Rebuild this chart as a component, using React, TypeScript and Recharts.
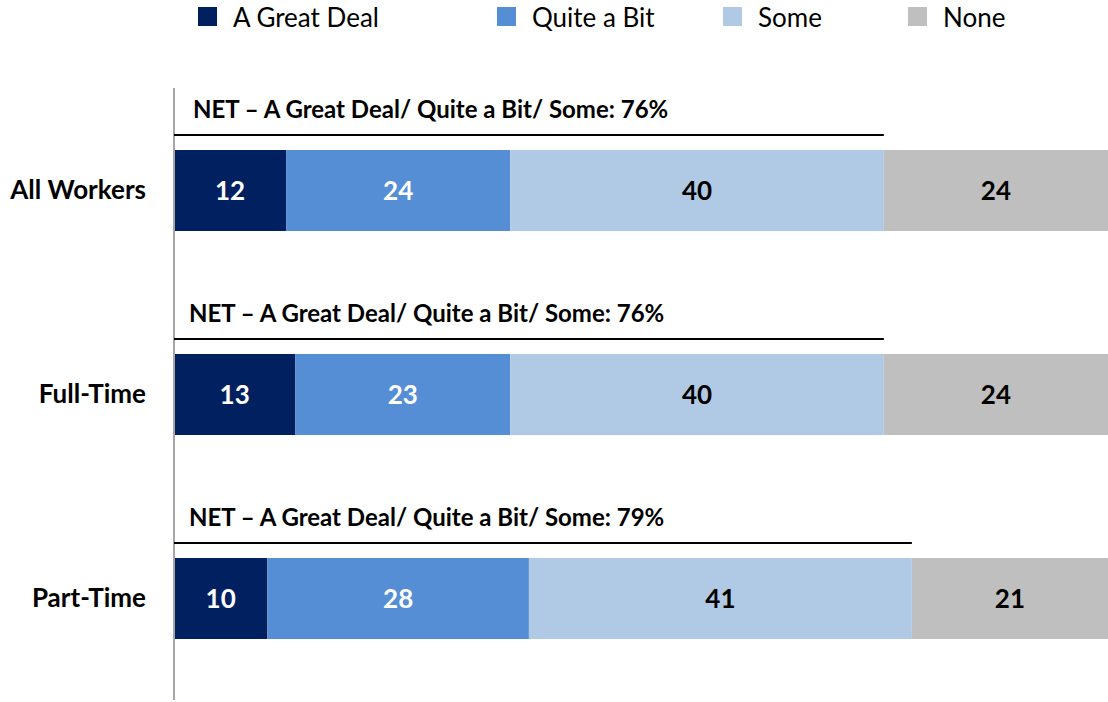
import React from 'react';
import { BarChart, Bar, XAxis, YAxis, Legend, LabelList } from 'recharts';

const categories = ['All Workers', 'Full-Time', 'Part-Time'];
const greatDeal = [12, 13, 10];
const quiteABit = [24, 23, 28];
const some = [40, 40, 41];
const none = [24, 24, 21];
const netValues = [76, 76, 79];

const seriesNames = ['A Great Deal', 'Quite a Bit', 'Some', 'None'];
const colors = ['#002060', '#558ED5', '#B0CAE5', '#BFBFBF'];
const labelColors = ['#fff', '#fff', '#000', '#000'];
// legend spacing as in the original layout
const legendLeft = [198, 497, 723, 908];

const data = categories.map((name, i) => ({
  name,
  greatDeal: greatDeal[i],
  quiteABit: quiteABit[i],
  some: some[i],
  none: none[i],
  net: netValues[i],
}));

const keys = ['greatDeal', 'quiteABit', 'some', 'none'];

const renderLegend = () => (
  <div style={{ position: 'relative', height: 88, width: 1108 }}>
    {seriesNames.map((n, i) => (
      <div key={n} style={{ position: 'absolute', left: legendLeft[i], top: 0, display: 'flex', alignItems: 'center', height: 33 }}>
        <span style={{ display: 'inline-block', width: 19, height: 19, background: colors[i], marginRight: 16 }} />
        <span style={{ fontSize: 26, color: '#000' }}>{n}</span>
      </div>
    ))}
  </div>
);

// draws the NET line + text above each bar, using the "Some" segment geometry
const NetLabel = (props: any) => {
  const { x, y, width, index } = props;
  const d = data[index];
  const pxPerUnit = width / d.some;
  const start = x + width - (d.greatDeal + d.quiteABit + d.some) * pxPerUnit;
  const end = start + d.net * pxPerUnit;
  return (
    <g>
      <line x1={start} x2={end} y1={y - 15} y2={y - 15} stroke="#000" strokeWidth={2} />
      <text x={start + (index === 0 ? 19 : 15)} y={y - 32} fontSize={24} fontWeight="bold" fill="#000">
        {`NET – A Great Deal/ Quite a Bit/ Some: ${d.net}%`}
      </text>
    </g>
  );
};

export default function App() {
  return (
    <div style={{ position: 'absolute', left: 0, top: 0, fontFamily: 'Lato, sans-serif', background: '#fff' }}>
      <BarChart
        width={1108}
        height={702}
        data={data}
        layout="vertical"
        margin={{ top: 0, right: 0, bottom: 2, left: 0 }}
        barCategoryGap={0}
      >
        <XAxis type="number" domain={[0, 100]} hide />
        <YAxis
          type="category"
          dataKey="name"
          width={174}
          tickLine={false}
          tickMargin={22}
          axisLine={{ stroke: '#a6a6a6', strokeWidth: 2 }}
          tick={{ fill: '#000', fontSize: 26, fontWeight: 'bold' }}
        />
        <Legend verticalAlign="top" align="left" height={88} content={renderLegend} />
        {keys.map((k, i) => (
          <Bar key={k} dataKey={k} name={seriesNames[i]} stackId="a" fill={colors[i]} barSize={81} isAnimationActive={false}>
            <LabelList dataKey={k} position="center" fill={labelColors[i]} fontSize={26} fontWeight="bold" />
            {k === 'some' && <LabelList dataKey="net" content={NetLabel} />}
          </Bar>
        ))}
      </BarChart>
    </div>
  );
}
